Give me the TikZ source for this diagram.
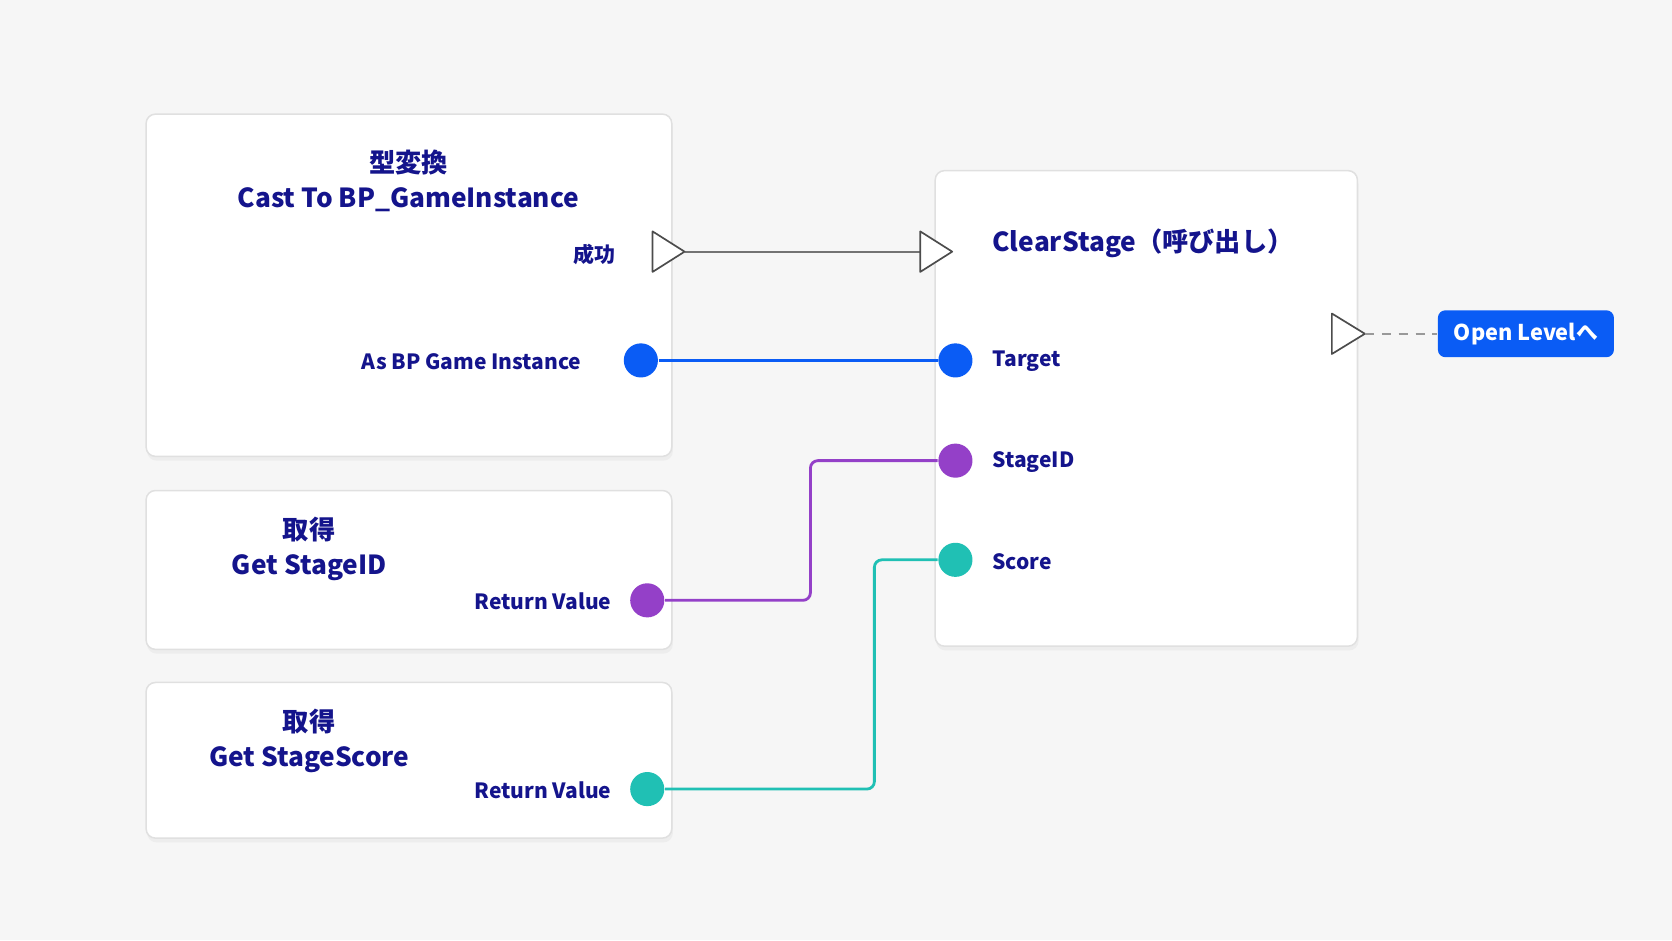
\documentclass[tikz,border=0pt]{standalone}
\usepackage{fontspec}
\setmainfont{Noto Sans CJK JP}
\usetikzlibrary{positioning}
\definecolor{bg}{HTML}{F6F6F6}
\definecolor{navy}{HTML}{14148C}
\definecolor{pinblue}{HTML}{0A5CF5}
\definecolor{pinpurple}{HTML}{9440C8}
\definecolor{pinteal}{HTML}{20C0B4}
\begin{document}
\begin{tikzpicture}
  [x=0.01cm,y=-0.01cm,
  nodebox/.style={rectangle,draw=black!12,fill=white,rounded corners=2.5pt,line width=0.4pt},
  label/.style={text=navy,font=\bfseries\fontsize{5.6}{7}\selectfont,inner sep=0},
  title/.style={text=navy,font=\bfseries\fontsize{7}{9.3}\selectfont,align=center,inner sep=0},
  execpin/.style={draw=black!70,fill=white,line width=0.45pt,line join=round},
  datapin/.style={circle,minimum size=0.32cm,inner sep=0}
  ]
  \fill[bg] (0,0) rectangle (1568,882);
  \useasboundingbox (0,0) rectangle (1568,882);
  % shadows and boxes
  \foreach \xa/\ya/\xb/\yb in {137/107/630/428,137/460/630/609,137/640/630/786,877/160/1273/606}{
    \fill[black!7,rounded corners=2.5pt] (\xa+1,\ya+4) rectangle (\xb+1,\yb+4);
    \draw[nodebox] (\xa,\ya) rectangle (\xb,\yb);
  }
  % titles
  \node[title] (casttitle) at (383,170) {型変換\\Cast To BP\_GameInstance};
  \node[title] (getidtitle) at (290,515) {取得\\Get StageID};
  \node[title] (getscoretitle) at (290,695) {取得\\Get StageScore};
  \node[title] (cleartitle) at (1072,228) {ClearStage（呼び出し）};
  % labels
  \node[label,anchor=east] (success) at (578,239) {成功};
  \node[label,anchor=east] (asgi) at (546,339) {As BP Game Instance};
  \node[label,anchor=east] (retid) at (574,564) {Return Value};
  \node[label,anchor=east] (retscore) at (574,741) {Return Value};
  \node[label,anchor=west] (target) at (930,339) {Target};
  \node[label,anchor=west] (stageid) at (930,433) {StageID};
  \node[label,anchor=west] (score) at (930,527) {Score};
  % exec pins
  \coordinate (exout) at (642,236);
  \coordinate (exin) at (863,236);
  \coordinate (exclear) at (1280,313);
  \draw[black!55,line width=0.6pt] (exout) -- (exin);
  \draw[execpin] (612,217) -- (exout) -- (612,255) -- cycle;
  \draw[execpin] (exin) ++(0,-19) -- (893,236) -- (863,255) -- cycle;
  \draw[execpin] (1249,294) -- (exclear) -- (1249,332) -- cycle;
  % button
  \node[rectangle,fill=pinblue,rounded corners=2pt,text=white,minimum width=1.65cm,
        minimum height=0.43cm,font=\bfseries\fontsize{5.8}{7}\selectfont] (openlevel) at (1431,313) {Open Levelへ};
  \draw[black!40,line width=0.6pt,dash pattern=on 2.5pt off 2pt] (exclear) -- (openlevel.west);
  % wires
  \node[datapin] (pasgi) at (601,338) {};
  \node[datapin] (ptarget) at (896,338) {};
  \node[datapin] (pretid) at (607,563) {};
  \node[datapin] (pstageid) at (896,432) {};
  \node[datapin] (pretscore) at (607,740) {};
  \node[datapin] (pscore) at (896,525) {};
  \draw[pinblue,line width=0.75pt] (pasgi) -- (ptarget);
  \draw[pinpurple,line width=0.75pt,rounded corners=2pt] (pretid) -- (760,563) -- (760,432) -- (pstageid);
  \draw[pinteal,line width=0.75pt,rounded corners=2pt] (pretscore) -- (820,740) -- (820,525) -- (pscore);
  \fill[pinblue] (pasgi) circle (16) (ptarget) circle (16);
  \fill[pinpurple] (pretid) circle (16) (pstageid) circle (16);
  \fill[pinteal] (pretscore) circle (16) (pscore) circle (16);
\end{tikzpicture}
\end{document}
